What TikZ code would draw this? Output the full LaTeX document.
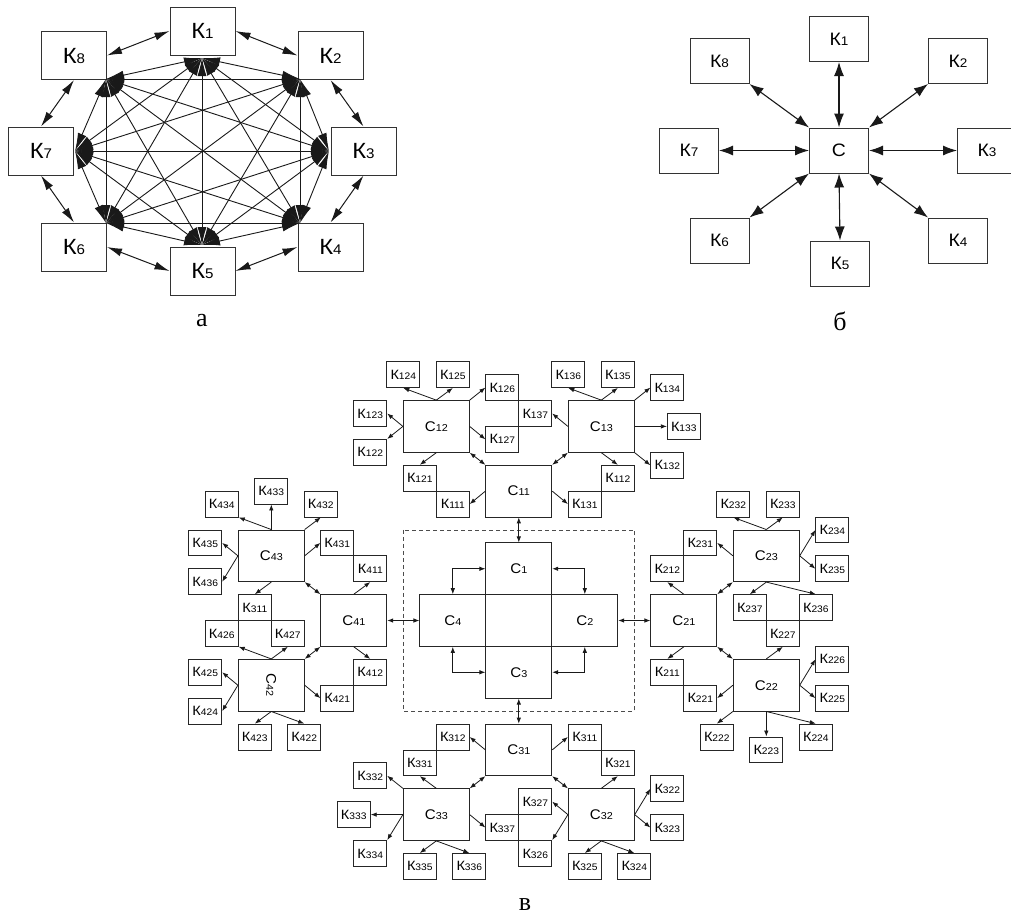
\documentclass[tikz,border=0pt]{standalone}
\usepackage{fontspec}
\setmainfont{Liberation Sans}[FakeStretch=1.08]
\newfontfamily\capfont{Liberation Serif}
\usetikzlibrary{arrows.meta}
\newcommand\Lab[4]{{\fontsize{#1}{#1}\selectfont #3}{\fontsize{#2}{#2}\selectfont #4}}
\newcommand\kn[4]{\node[kc] (#1) at ({#2+1},{#3+1}) {\Lab{13.5}{9.5}{К}{#4}};}
\newcommand\cn[4]{\node[cc] (#1) at ({#2+2},{#3+2}) {\Lab{14}{10}{С}{#4}};}
\begin{document}
\begin{tikzpicture}[x=1pt,y=-1pt,
 boxa/.style={draw=black!80,line width=1pt,minimum width=65pt,minimum height=48pt,inner sep=0pt},
 boxb/.style={draw=black!80,line width=1pt,minimum width=59pt,minimum height=45pt,inner sep=0pt},
 arra/.style={draw=black!90,line width=1pt,arrows={Latex[length=15pt,width=8pt]-Latex[length=15pt,width=8pt]}},
 edgea/.style={draw=black!90,line width=0.9pt,arrows={Latex[length=18pt,width=9pt]-Latex[length=18pt,width=9pt]}},
 arrb/.style={draw=black!90,line width=1.1pt,arrows={Latex[length=14pt,width=10pt]-Latex[length=14pt,width=10pt]}},
 kc/.style={draw=black!85,line width=0.8pt,minimum width=33pt,minimum height=25.88pt,inner sep=0pt},
 cc/.style={draw=black!85,line width=0.8pt,minimum width=66pt,minimum height=51.76pt,inner sep=0pt},
 ar/.style={draw=black!90,line width=0.8pt,arrows={-Latex[length=6pt,width=4.5pt]}},
 dar/.style={draw=black!90,line width=0.8pt,arrows={Latex[length=6pt,width=4.5pt]-Latex[length=6pt,width=4.5pt]}},
 caption/.style={font={\capfont\fontsize{26}{26}\selectfont},anchor=base,inner sep=0pt}
]
\useasboundingbox (0,0) rectangle (1011,914);
% ---------- part a ----------
\node[boxa] (a1) at (202.5,31) {\Lab{22}{14}{К}{1}};
\node[boxa] (a2) at (330.5,55.5) {\Lab{22}{14}{К}{2}};
\node[boxa] (a3) at (363.5,151) {\Lab{22}{14}{К}{3}};
\node[boxa] (a4) at (330.5,247) {\Lab{22}{14}{К}{4}};
\node[boxa] (a5) at (202.5,271) {\Lab{22}{14}{К}{5}};
\node[boxa] (a6) at (74,247) {\Lab{22}{14}{К}{6}};
\node[boxa] (a7) at (41,151) {\Lab{22}{14}{К}{7}};
\node[boxa] (a8) at (74,55.5) {\Lab{22}{14}{К}{8}};
\coordinate (P1) at (202,58);
\coordinate (P2) at (300,79);
\coordinate (P3) at (329,151);
\coordinate (P4) at (300,223);
\coordinate (P5) at (202,245);
\coordinate (P6) at (106,223);
\coordinate (P7) at (75,151);
\coordinate (P8) at (106,79);
\foreach \i in {1,...,7}{
  \pgfmathtruncatemacro\s{\i+1}
  \foreach \j in {\s,...,8}{\draw[edgea] (P\i) -- (P\j);}
}
\draw[arra] (a8.east) -- (a1.west);
\draw[arra] (a1.east) -- (a2.west);
\draw[arra] (a2.south) -- (a3.north);
\draw[arra] (a3.south) -- (a4.north);
\draw[arra] (a4.west) -- (a5.east);
\draw[arra] (a5.west) -- (a6.east);
\draw[arra] (a6.north) -- (a7.south);
\draw[arra] (a7.north) -- (a8.south);
\node[caption] (capa) at (202,326) {а};
% ---------- part b ----------
\node[boxb] (b1) at (839,39) {\Lab{18}{12.5}{К}{1}};
\node[boxb] (b2) at (958,61) {\Lab{18}{12.5}{К}{2}};
\node[boxb] (b3) at (987,150.5) {\Lab{18}{12.5}{К}{3}};
\node[boxb] (b4) at (958,240.5) {\Lab{18}{12.5}{К}{4}};
\node[boxb] (b5) at (840,263.5) {\Lab{18}{12.5}{К}{5}};
\node[boxb] (b6) at (719.5,240.5) {\Lab{18}{12.5}{К}{6}};
\node[boxb] (b7) at (689,150.5) {\Lab{18}{12.5}{К}{7}};
\node[boxb] (b8) at (719.5,61) {\Lab{18}{12.5}{К}{8}};
\node[boxb] (bC) at (839,150.5) {\fontsize{18}{18}\selectfont С};
\draw[arrb] (b1.south) -- (bC.north);
\draw[arrb] (b5.north) -- (bC.south);
\draw[arrb] (b7.east) -- (bC.west);
\draw[arrb] (b3.west) -- (bC.east);
\draw[arrb] (b8.south east) -- (bC.north west);
\draw[arrb] (b2.south west) -- (bC.north east);
\draw[arrb] (b6.north east) -- (bC.south west);
\draw[arrb] (b4.north west) -- (bC.south east);
\node[caption] (capb) at (840,330) {б};
% ---------- part c ----------
\begin{scope}[shift={(337.3pt,-361.7pt)},x=16.5pt,y=-12.94pt]
% cluster 1
\kn{K124}{3}{0}{124}
\kn{K125}{6}{0}{125}
\kn{K126}{9}{1}{126}
\kn{K123}{1}{3}{123}
\kn{K122}{1}{6}{122}
\cn{C12}{4}{3}{12}
\kn{K137}{11}{3}{137}
\kn{K127}{9}{5}{127}
\kn{K136}{13}{0}{136}
\kn{K135}{16}{0}{135}
\kn{K134}{19}{1}{134}
\cn{C13}{14}{3}{13}
\kn{K133}{20}{4}{133}
\kn{K132}{19}{7}{132}
\kn{K121}{4}{8}{121}
\kn{K111}{6}{10}{111}
\cn{C11}{9}{8}{11}
\kn{K112}{16}{8}{112}
\kn{K131}{14}{10}{131}
% center
\draw[dashed,dash pattern=on 4pt off 3pt,line width=0.8pt,black!70] (4,13) rectangle (18,27);
\cn{C1}{9}{14}{1}
\cn{C4}{5}{18}{4}
\cn{C2}{13}{18}{2}
\cn{C3}{9}{22}{3}
% cluster 4
\kn{K434}{-8}{10}{434}
\kn{K433}{-5}{9}{433}
\kn{K432}{-2}{10}{432}
\kn{K435}{-9}{13}{435}
\kn{K436}{-9}{16}{436}
\cn{C43}{-6}{13}{43}
\kn{K431}{-1}{13}{431}
\kn{K411}{1}{15}{411}
\cn{C41}{-1}{18}{41}
\kn{K311a}{-6}{18}{311}
\kn{K426}{-8}{20}{426}
\kn{K427}{-4}{20}{427}
\node[cc] (C42) at (-4,25) {\rotatebox{-90}{\Lab{14}{10}{С}{42}}};
\kn{K425}{-9}{23}{425}
\kn{K424}{-9}{26}{424}
\kn{K412}{1}{23}{412}
\kn{K421}{-1}{25}{421}
\kn{K423}{-6}{28}{423}
\kn{K422}{-3}{28}{422}
% cluster 2
\kn{K232}{23}{10}{232}
\kn{K233}{26}{10}{233}
\kn{K234}{29}{12}{234}
\kn{K231}{21}{13}{231}
\kn{K212}{19}{15}{212}
\cn{C23}{24}{13}{23}
\kn{K235}{29}{15}{235}
\cn{C21}{19}{18}{21}
\kn{K237}{24}{18}{237}
\kn{K236}{28}{18}{236}
\kn{K227}{26}{20}{227}
\kn{K211}{19}{23}{211}
\kn{K221}{21}{25}{221}
\cn{C22}{24}{23}{22}
\kn{K226}{29}{22}{226}
\kn{K225}{29}{25}{225}
\kn{K222}{22}{28}{222}
\kn{K223}{25}{29}{223}
\kn{K224}{28}{28}{224}
% cluster 3
\cn{C31}{9}{28}{31}
\kn{K312}{6}{28}{312}
\kn{K331}{4}{30}{331}
\kn{K311b}{14}{28}{311}
\kn{K321}{16}{30}{321}
\kn{K332}{1}{31}{332}
\cn{C33}{4}{33}{33}
\kn{K333}{0}{34}{333}
\kn{K334}{1}{37}{334}
\kn{K335}{4}{38}{335}
\kn{K336}{7}{38}{336}
\kn{K337}{9}{35}{337}
\kn{K327}{11}{33}{327}
\kn{K326}{11}{37}{326}
\cn{C32}{14}{33}{32}
\kn{K322}{19}{32}{322}
\kn{K323}{19}{35}{323}
\kn{K325}{14}{38}{325}
\kn{K324}{17}{38}{324}
% arrows cluster 1
\draw[ar] (C12.north) -- (K124.south);
\draw[ar] (C12.north) -- (K125.south);
\draw[ar] (C12.north east) -- (K126.west);
\draw[ar] (C12.west) -- (K123.east);
\draw[ar] (C12.west) -- (K122.north east);
\draw[ar] (C12.east) -- (K127.west);
\draw[ar] (C12.south) -- (K121.north);
\draw[ar] (C11.west) -- (K111.east);
\draw[ar] (C11.east) -- (K131.west);
\draw[ar] (C13.west) -- (K137.east);
\draw[ar] (C13.north) -- (K136.south);
\draw[ar] (C13.north) -- (K135.south);
\draw[ar] (C13.north east) -- (K134.west);
\draw[ar] (C13.east) -- (K133.west);
\draw[ar] (C13.south east) -- (K132.west);
\draw[ar] (C13.south) -- (K112.north);
\draw[dar] (C12.south east) -- (C11.north west);
\draw[dar] (C11.north east) -- (C13.south west);
% center arrows
\draw[dar] (C11.south) -- (C1.north);
\draw[dar] (C1.west) -| (C4.north);
\draw[dar] (C1.east) -| (C2.north);
\draw[dar] (C4.south) |- (C3.west);
\draw[dar] (C2.south) |- (C3.east);
\draw[dar] (C41.east) -- (C4.west);
\draw[dar] (C2.east) -- (C21.west);
\draw[dar] (C3.south) -- (C31.north);
% arrows cluster 4
\draw[ar] (C43.north) -- (K434.south east);
\draw[ar] (C43.north) -- (K433.south);
\draw[ar] (C43.north east) -- (K432.south);
\draw[ar] (C43.west) -- (K435.east);
\draw[ar] (C43.west) -- (K436.east);
\draw[ar] (C43.east) -- (K431.west);
\draw[ar] (C43.south) -- (K311a.north);
\draw[ar] (C41.north) -- (K411.south);
\draw[ar] (C41.south) -- (K412.north);
\draw[ar] (C42.north) -- (K426.south east);
\draw[ar] (C42.north) -- (K427.south);
\draw[ar] (C42.west) -- (K425.east);
\draw[ar] (C42.west) -- (K424.east);
\draw[ar] (C42.east) -- (K421.west);
\draw[ar] (C42.south) -- (K423.north);
\draw[ar] (C42.south) -- (K422.north);
\draw[dar] (C43.south east) -- (C41.north west);
\draw[dar] (C41.south west) -- (C42.north east);
% arrows cluster 2
\draw[ar] (C23.north) -- (K232.south);
\draw[ar] (C23.north) -- (K233.south);
\draw[ar] (C23.east) -- (K234.west);
\draw[ar] (C23.east) -- (K235.west);
\draw[ar] (C23.west) -- (K231.east);
\draw[ar] (C21.north) -- (K212.south);
\draw[ar] (C23.south) -- (K237.north);
\draw[ar] (C23.south) -- (K236.north);
\draw[ar] (C21.south) -- (K211.north);
\draw[ar] (C22.north) -- (K227.south);
\draw[ar] (C22.east) -- (K226.west);
\draw[ar] (C22.east) -- (K225.west);
\draw[ar] (C22.west) -- (K221.east);
\draw[ar] (C22.south west) -- (K222.north);
\draw[ar] (C22.south) -- (K223.north);
\draw[ar] (C22.south) -- (K224.north);
\draw[dar] (C23.south west) -- (C21.north east);
\draw[dar] (C21.south east) -- (C22.north west);
% arrows cluster 3
\draw[ar] (C31.west) -- (K312.east);
\draw[ar] (C31.east) -- (K311b.west);
\draw[ar] (C33.north) -- (K331.south);
\draw[ar] (C33.north west) -- (K332.east);
\draw[ar] (C33.west) -- (K333.east);
\draw[ar] (C33.west) -- (K334.north east);
\draw[ar] (C33.south) -- (K335.north);
\draw[ar] (C33.south) -- (K336.north);
\draw[ar] (C33.east) -- (K337.west);
\draw[ar] (C32.north) -- (K321.south);
\draw[ar] (C32.west) -- (K327.east);
\draw[ar] (C32.west) -- (K326.north east);
\draw[ar] (C32.east) -- (K322.west);
\draw[ar] (C32.east) -- (K323.west);
\draw[ar] (C32.south) -- (K325.north);
\draw[ar] (C32.south) -- (K324.north);
\draw[dar] (C31.south west) -- (C33.north east);
\draw[dar] (C31.south east) -- (C32.north west);
\end{scope}
\node[caption] (capc) at (525,910) {в};
\end{tikzpicture}
\end{document}
